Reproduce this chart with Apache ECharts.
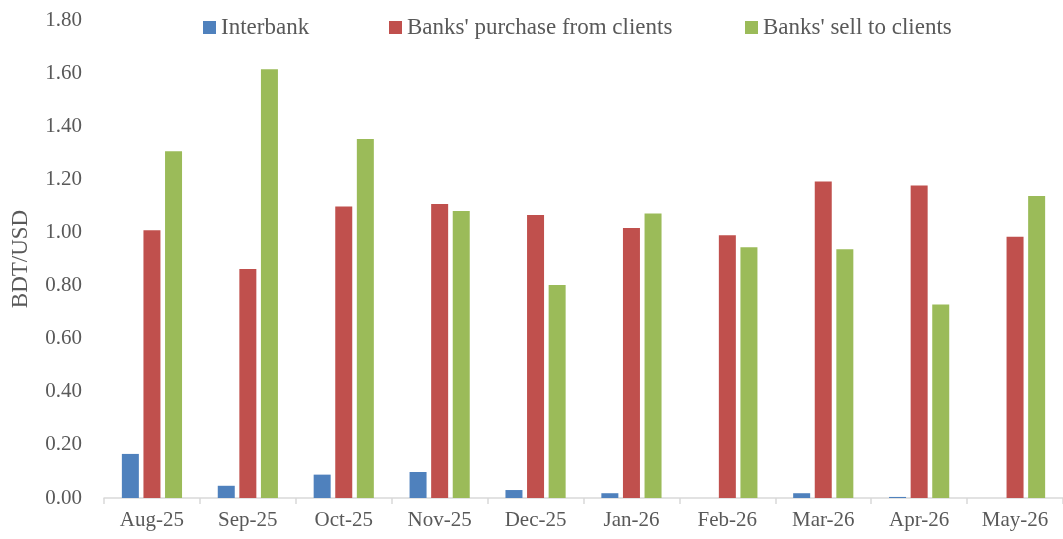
<!DOCTYPE html>
<html>
<head>
<meta charset="utf-8">
<script src="https://cdn.jsdelivr.net/npm/echarts@6/dist/echarts.min.js"></script>
<style>
  html, body { margin: 0; padding: 0; background: #ffffff; }
  #chart { width: 1063px; height: 539px; }
</style>
</head>
<body>
<div id="chart"></div>
<script>
// Monthly BDT/USD volatility by market segment
const months = ['Aug-25', 'Sep-25', 'Oct-25', 'Nov-25', 'Dec-25', 'Jan-26', 'Feb-26', 'Mar-26', 'Apr-26', 'May-26'];
const interbank = [0.166, 0.046, 0.088, 0.098, 0.030, 0.018, 0, 0.018, 0.004, 0];
const purchaseFromClients = [1.008, 0.862, 1.098, 1.107, 1.066, 1.017, 0.989, 1.192, 1.177, 0.984];
const sellToClients = [1.306, 1.615, 1.352, 1.081, 0.802, 1.071, 0.944, 0.937, 0.729, 1.137];
const yTicks = { min: 0, max: 1.8, step: 0.2 };

const seriesNames = ['Interbank', "Banks' purchase from clients", "Banks' sell to clients"];
const colors = ['#4F81BD', '#C0504D', '#9BBB59'];
const textColor = '#595959';
const fontFamily = '"Liberation Serif", "DejaVu Serif", serif';

const chart = echarts.init(document.getElementById('chart'), null, { renderer: 'canvas' });

const legendLefts = [203, 389, 745];
const legends = seriesNames.map((name, i) => ({
  data: [name],
  left: legendLefts[i],
  top: 16,
  itemWidth: 13,
  itemHeight: 13,
  icon: 'rect',
  padding: 0,
  selectedMode: false,
  textStyle: { color: textColor, fontFamily: fontFamily, fontSize: 23, padding: [0, 0, 0, 0] }
}));

const valueSets = [interbank, purchaseFromClients, sellToClients];

chart.setOption({
  animation: false,
  color: colors,
  legend: legends,
  grid: { left: 104, right: -11, top: 20, bottom: 41, containLabel: false },
  xAxis: {
    type: 'category',
    data: months,
    axisLine: { lineStyle: { color: '#D9D9D9', width: 1.5 } },
    axisTick: { show: true, length: 6, lineStyle: { color: '#D9D9D9', width: 1.5 } },
    axisLabel: { color: textColor, fontFamily: fontFamily, fontSize: 21, margin: 12 }
  },
  yAxis: {
    type: 'value',
    min: yTicks.min,
    max: yTicks.max,
    interval: yTicks.step,
    name: 'BDT/USD',
    nameLocation: 'middle',
    nameGap: 72,
    nameRotate: 90,
    nameTextStyle: { color: textColor, fontFamily: fontFamily, fontSize: 23 },
    axisLine: { show: false },
    axisTick: { show: false },
    splitLine: { show: false },
    axisLabel: {
      color: textColor, fontFamily: fontFamily, fontSize: 21, margin: 22,
      formatter: v => v.toFixed(2)
    }
  },
  series: seriesNames.map((name, i) => ({
    name: name,
    type: 'bar',
    data: valueSets[i],
    barWidth: 17,
    barGap: '27%',
    itemStyle: { color: colors[i] }
  }))
});
</script>
</body>
</html>
